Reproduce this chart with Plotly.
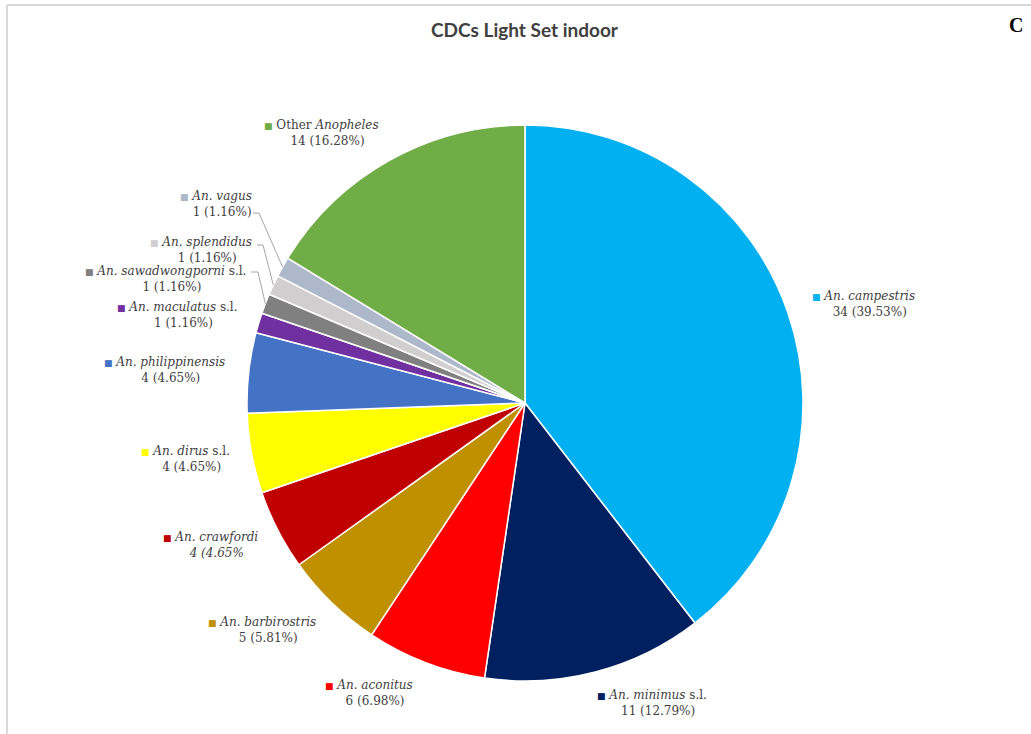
import math
import plotly.graph_objects as go

# Species caught by CDC light traps set indoors
species = [
    "An. campestris", "An. minimus", "An. aconitus", "An. barbirostris",
    "An. crawfordi", "An. dirus", "An. philippinensis", "An. maculatus",
    "An. sawadwongporni", "An. splendidus", "An. vagus", "Other Anopheles",
]
counts = [34, 11, 6, 5, 4, 4, 4, 1, 1, 1, 1, 14]
suffix = ["", " s.l.", "", "", "", " s.l.", "", " s.l.", " s.l.", "", "", ""]
colors = [
    "#00B0F0", "#002060", "#FF0000", "#BF9000", "#C00000", "#FFFF00",
    "#4472C4", "#7030A0", "#808080", "#D0CECE", "#ADB9CA", "#70AD47",
]

W, H = 1031, 734
CX, CY, R = 525, 403, 278          # pie centre and radius in pixels

# label block centres (pixels) and leader-line start points
label_pos = [
    (869, 304), (658, 703), (375, 693), (268, 630), (217, 545), (191, 459),
    (171, 370), (183, 315), (172, 279), (207, 250), (222, 204), (327, 133),
]
leaders = {
    10: [(253, 213), (259, 213)],
    9: [(257, 245), (263, 245)],
    8: [(251, 272), (258, 272)],
}

total = sum(counts)
TEXT = "#404040"
LABEL_FONT = "DejaVu Serif"

fig = go.Figure()
fig.add_trace(go.Pie(
    values=counts,
    labels=species,
    sort=False,
    direction="clockwise",
    rotation=0,
    marker=dict(colors=colors, line=dict(color="white", width=1.5)),
    textinfo="none",
    hoverinfo="skip",
    showlegend=False,
    domain=dict(x=[(CX - R) / W, (CX + R) / W], y=[(H - CY - R) / H, (H - CY + R) / H]),
))

# invisible pixel-space axes for labels and leader lines
fig.update_layout(
    xaxis=dict(range=[0, W], visible=False, domain=[0, 1], fixedrange=True),
    yaxis=dict(range=[H, 0], visible=False, domain=[0, 1], fixedrange=True),
)

annotations = []
shapes = []
for i, (name, n, sfx, col) in enumerate(zip(species, counts, suffix, colors)):
    pct = n / total * 100
    if name == "Other Anopheles":
        name_html = "Other <i>Anopheles</i>"
    else:
        name_html = f"<i>{name}</i>{sfx}"
    value_txt = f"{n} ({pct:.2f}%)"
    if name == "An. crawfordi":
        value_txt = f"<i>{n} ({pct:.2f}%</i>"
    marker = f"<span style='color:{col};font-size:9px'>■</span>"
    pad = "<span style='color:rgba(0,0,0,0);font-size:9px'>■</span>"
    text = f"{marker} {name_html} {pad}<br>{value_txt}"
    x, y = label_pos[i]
    annotations.append(dict(
        x=x, y=y, xref="x", yref="y", text=text, showarrow=False,
        xanchor="center", yanchor="middle", align="center",
        font=dict(family=LABEL_FONT, size=12, color=TEXT),
    ))

    if i in leaders:
        start = sum(counts[:i])
        mid = (start + n / 2) / total * 2 * math.pi
        ex = CX + R * math.sin(mid)
        ey = CY - R * math.cos(mid)
        pts = leaders[i] + [(ex, ey)]
        path = "M " + " L ".join(f"{px},{py}" for px, py in pts)
        shapes.append(dict(type="path", path=path, xref="x", yref="y",
                           line=dict(color="#A6A6A6", width=1)))

annotations.append(dict(
    x=525, y=29, xref="x", yref="y", text="<b>CDCs Light Set indoor</b>",
    showarrow=False, xanchor="center", yanchor="middle",
    font=dict(family="Lato", size=19, color="#404040"),
))
annotations.append(dict(
    x=1016, y=25, xref="x", yref="y", text="<b>C</b>",
    showarrow=False, xanchor="center", yanchor="middle",
    font=dict(family="Liberation Serif", size=20, color="black"),
))

# chart frame (top and left edges)
shapes.append(dict(type="line", x0=7, x1=W, y0=5, y1=5, xref="x", yref="y",
                   line=dict(color="#D9D9D9", width=2)))
shapes.append(dict(type="line", x0=7, x1=7, y0=5, y1=H, xref="x", yref="y",
                   line=dict(color="#D9D9D9", width=2)))

fig.update_layout(
    width=W, height=H,
    margin=dict(l=0, r=0, t=0, b=0),
    paper_bgcolor="white", plot_bgcolor="white",
    annotations=annotations, shapes=shapes,
)

fig.write_html("out.html")
